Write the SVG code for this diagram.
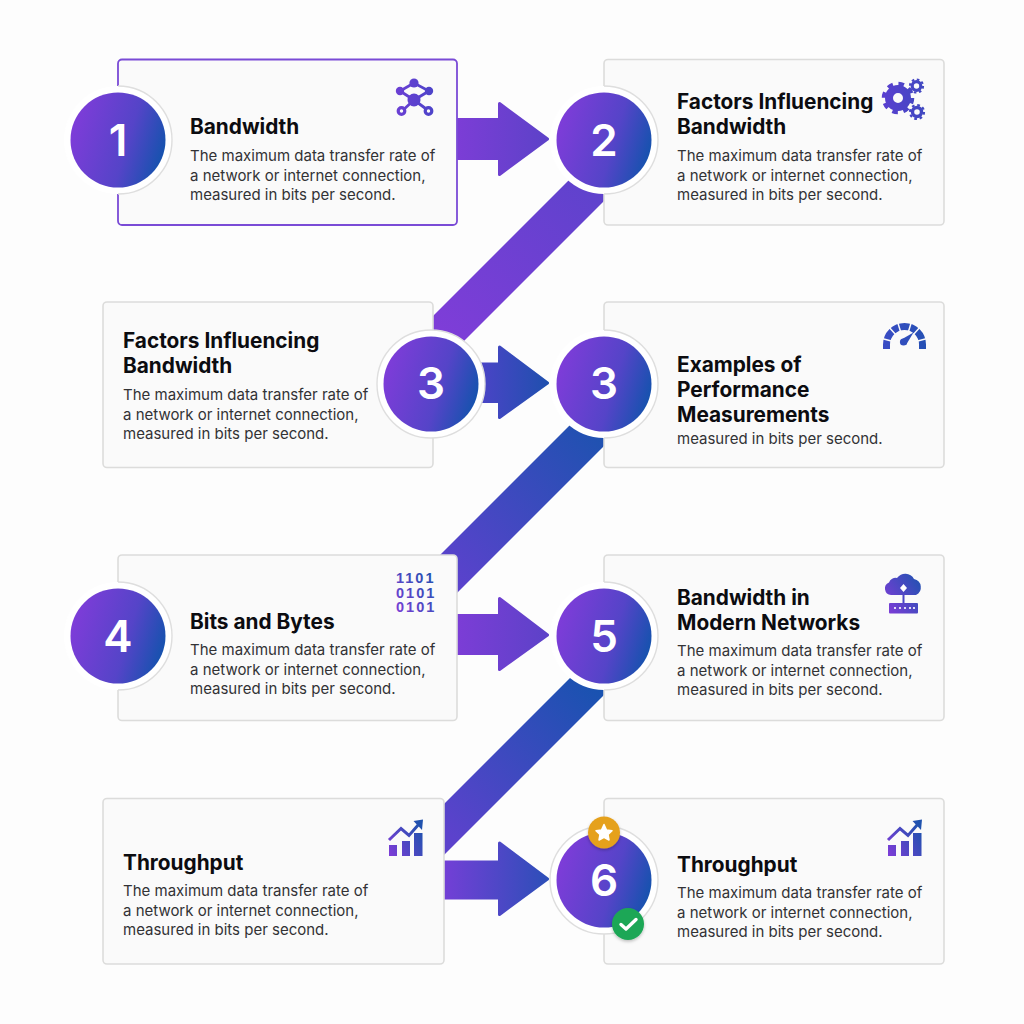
<svg xmlns="http://www.w3.org/2000/svg" xmlns:xlink="http://www.w3.org/1999/xlink" width="1024" height="1024" viewBox="0 0 1024 1024">
<style>
.card{fill:#fafafa;stroke:#dcdcdb;stroke-width:1.6}
.ring{fill:#fff;stroke:#dedede;stroke-width:1.4}
.halo{fill:#fff}
.edge{fill:none;stroke:#dedede;stroke-width:1.4}
.t{font-family:Inter,"Liberation Sans",sans-serif;font-weight:700;font-size:20.8px;fill:#0c0c10}
.b{font-family:Inter,"Liberation Sans",sans-serif;font-weight:400;font-size:15px;fill:#323235}
.n{font-family:Inter,"Liberation Sans",sans-serif;font-weight:600;font-size:44px;fill:#fff;text-anchor:middle}
.arrow{stroke-width:3;stroke-linejoin:round}
.bin{font-family:"Liberation Sans",sans-serif;font-weight:700;font-size:14.5px;letter-spacing:2px}
</style>
<defs>
<linearGradient id="disc" x1="0" y1="0.35" x2="1" y2="0.65"><stop offset="0" stop-color="#7f3cd9"/><stop offset="0.6" stop-color="#5544c8"/><stop offset="1" stop-color="#1353ad"/></linearGradient>
<linearGradient id="a1" gradientUnits="userSpaceOnUse" x1="457" y1="139" x2="549" y2="139"><stop offset="0" stop-color="#7c3dd6"/><stop offset="1" stop-color="#5c42c8"/></linearGradient>
<linearGradient id="a3" gradientUnits="userSpaceOnUse" x1="481" y1="383" x2="549" y2="383"><stop offset="0" stop-color="#4a44c6"/><stop offset="1" stop-color="#1f50ae"/></linearGradient>
<linearGradient id="a5" gradientUnits="userSpaceOnUse" x1="457" y1="635" x2="549" y2="635"><stop offset="0" stop-color="#7c3dd6"/><stop offset="1" stop-color="#5c42c8"/></linearGradient>
<linearGradient id="a6" gradientUnits="userSpaceOnUse" x1="444" y1="879" x2="549" y2="879"><stop offset="0" stop-color="#733fd6"/><stop offset="1" stop-color="#2c4fb8"/></linearGradient>
<linearGradient id="d1" gradientUnits="userSpaceOnUse" x1="434" y1="330" x2="610" y2="160"><stop offset="0" stop-color="#7f3dd8"/><stop offset="1" stop-color="#5a43cb"/></linearGradient>
<linearGradient id="d2" gradientUnits="userSpaceOnUse" x1="445" y1="570" x2="610" y2="420"><stop offset="0" stop-color="#5a42cc"/><stop offset="1" stop-color="#1a53ae"/></linearGradient>
<linearGradient id="d3" gradientUnits="userSpaceOnUse" x1="445" y1="830" x2="610" y2="670"><stop offset="0" stop-color="#5c42cc"/><stop offset="1" stop-color="#1254ad"/></linearGradient>
<linearGradient id="i1" gradientUnits="userSpaceOnUse" x1="395" y1="98" x2="436" y2="98"><stop offset="0" stop-color="#6c3fd4"/><stop offset="1" stop-color="#4a44c8"/></linearGradient>
<linearGradient id="i2" gradientUnits="userSpaceOnUse" x1="882" y1="98" x2="925" y2="98"><stop offset="0" stop-color="#5a3fd0"/><stop offset="1" stop-color="#3f48c0"/></linearGradient>
<linearGradient id="i3" gradientUnits="userSpaceOnUse" x1="883" y1="340" x2="926" y2="340"><stop offset="0" stop-color="#3a4cc4"/><stop offset="1" stop-color="#2550b4"/></linearGradient>
<linearGradient id="i4" gradientUnits="userSpaceOnUse" x1="396" y1="612" x2="436" y2="575"><stop offset="0" stop-color="#7a3dd6"/><stop offset="1" stop-color="#1f52ae"/></linearGradient>
<linearGradient id="i5" gradientUnits="userSpaceOnUse" x1="885" y1="605" x2="923" y2="580"><stop offset="0" stop-color="#7a3dd6"/><stop offset="1" stop-color="#1f52b0"/></linearGradient>
<linearGradient id="i6" gradientUnits="userSpaceOnUse" x1="388" y1="850" x2="423" y2="830"><stop offset="0" stop-color="#7a3dd6"/><stop offset="1" stop-color="#1f52ae"/></linearGradient>
<filter id="sh" x="-30%" y="-30%" width="160%" height="160%"><feDropShadow dx="0" dy="1.5" stdDeviation="1.5" flood-color="#000" flood-opacity="0.25"/></filter>
<g id="chart">
<rect x="389" y="845" width="8" height="11"/><rect x="402" y="841" width="8" height="15"/><rect x="414" y="833" width="8.500" height="23"/>
<path d="M389 840L401 828.500L409 835.500L419 824" fill="none" stroke-width="3" stroke="url(#i6)"/>
<path d="M413.500 821L423 819.500L422 830Z"/>
</g>
</defs>
<rect width="1024" height="1024" fill="#fdfdfd"/>

<g id="connectors">
<path fill="url(#d1)" d="M600 149L656 149L400 405L344 405Z"/>
<path fill="url(#d2)" d="M600 395L656 394L400 650L345 650Z"/>
<path fill="url(#d3)" d="M600 648L651 648L400 899L349 899Z"/>
<path class="arrow" fill="url(#a1)" stroke="url(#a1)" d="M457 119.500H499.500V103.500L547.500 139L499.500 174.500V158.500H457Z"/>
<path class="arrow" fill="url(#a3)" stroke="url(#a3)" d="M478 364H499.500V347L547.500 383L499.500 417.500V401.500H478Z"/>
<path class="arrow" fill="url(#a5)" stroke="url(#a5)" d="M457 615.500H499.500V598.500L547.500 635L499.500 669.500V653.500H457Z"/>
<path class="arrow" fill="url(#a6)" stroke="url(#a6)" d="M444 862H499.500V843L547.500 879L499.500 914.500V898H444Z"/>
</g>

<g id="node-1">
<rect x="118" y="59.500" width="339" height="165.500" rx="4" fill="#fafafa" stroke="#7a4bd6" stroke-width="1.800"/>
<text class="t" x="190" y="134">Bandwidth</text>
<text class="b" x="190" y="161">The maximum data transfer rate of</text>
<text class="b" x="190" y="181">a network or internet connection,</text>
<text class="b" x="190" y="200">measured in bits per second.</text>
<circle class="halo" cx="118" cy="140" r="54"/><path class="edge" d="M118 86A54 54 0 0 1 118 194"/><circle cx="118" cy="140" r="47.500" fill="url(#disc)"/>
<text class="n" x="118" y="156">1</text>
<g fill="url(#i1)" stroke="url(#i1)">
<path d="M414 83L400 91L414 100L429 91Z M414 100L402 111M414 100L429 111" fill="none" stroke-width="2.800"/>
<circle cx="414" cy="83" r="4.600" stroke="none"/><circle cx="400" cy="91" r="4.200" stroke="none"/><circle cx="429" cy="91" r="4.200" stroke="none"/><circle cx="414" cy="100" r="6.500" stroke="none"/>
<circle cx="401.500" cy="111" r="3.300" fill="#fafafa" stroke-width="3.200"/><circle cx="428.500" cy="111" r="3.300" fill="#fafafa" stroke-width="3.200"/>
</g>
</g>

<g id="node-2">
<rect class="card" x="604" y="59.500" width="340" height="165.500" rx="4"/>
<text class="t" x="677" y="109">Factors Influencing</text>
<text class="t" x="677" y="134">Bandwidth</text>
<text class="b" x="677" y="161">The maximum data transfer rate of</text>
<text class="b" x="677" y="181">a network or internet connection,</text>
<text class="b" x="677" y="200">measured in bits per second.</text>
<circle class="halo" cx="604" cy="140" r="54"/><path class="edge" d="M604 86A54 54 0 0 1 604 194"/><circle cx="604" cy="140" r="47.500" fill="url(#disc)"/>
<text class="n" x="604" y="156">2</text>
<g fill="none" stroke="url(#i2)">
<circle cx="898" cy="98" r="9" stroke-width="8"/><circle cx="898" cy="98" r="14" stroke-width="4.500" stroke-dasharray="5.500 5.500"/>
<circle cx="916.500" cy="86" r="4.300" stroke-width="3.200"/><circle cx="916.500" cy="86" r="6.600" stroke-width="2" stroke-dasharray="2.600 2.600"/>
<circle cx="917" cy="112" r="4.500" stroke-width="3.400"/><circle cx="917" cy="112" r="7" stroke-width="2.200" stroke-dasharray="2.750 2.750"/>
</g>
</g>

<g id="node-3a">
<rect class="card" x="103" y="302" width="330" height="165.500" rx="4"/>
<text class="t" x="123" y="348">Factors Influencing</text>
<text class="t" x="123" y="373">Bandwidth</text>
<text class="b" x="123" y="400">The maximum data transfer rate of</text>
<text class="b" x="123" y="420">a network or internet connection,</text>
<text class="b" x="123" y="439">measured in bits per second.</text>
<circle class="ring" cx="431" cy="384" r="54"/><circle cx="431" cy="384" r="47.500" fill="url(#disc)"/>
<text class="n" x="431" y="399">3</text>
</g>

<g id="node-3b">
<rect class="card" x="604" y="302" width="340" height="165.500" rx="4"/>
<text class="t" x="677" y="372">Examples of</text>
<text class="t" x="677" y="397">Performance</text>
<text class="t" x="677" y="422">Measurements</text>
<text class="b" x="677" y="444">measured in bits per second.</text>
<circle class="halo" cx="604" cy="384" r="54"/><path class="edge" d="M604 330A54 54 0 0 1 604 438"/><circle cx="604" cy="384" r="47.500" fill="url(#disc)"/>
<text class="n" x="604" y="399">3</text>
<g>
<path d="M886.500 349V344.500A18 18 0 0 1 922.500 344.500V349" fill="none" stroke="url(#i3)" stroke-width="7"/>
<path d="M904.500 344.500L880 338M904.500 344.500L888 326M904.500 344.500L897 320M904.500 344.500L912 320M904.500 344.500L921 326M904.500 344.500L929 338" fill="none" stroke="#fafafa" stroke-width="1.500"/>
<path d="M900.500 340L913.500 332.500L906 345Z" fill="url(#i3)"/><circle cx="903.500" cy="342" r="3.600" fill="url(#i3)"/>
</g>
</g>

<g id="node-4">
<rect class="card" x="118" y="555" width="339" height="165.500" rx="4"/>
<text class="t" x="190" y="629">Bits and Bytes</text>
<text class="b" x="190" y="655">The maximum data transfer rate of</text>
<text class="b" x="190" y="675">a network or internet connection,</text>
<text class="b" x="190" y="694">measured in bits per second.</text>
<circle class="halo" cx="118" cy="636" r="54"/><path class="edge" d="M118 582A54 54 0 0 1 118 690"/><circle cx="118" cy="636" r="47.500" fill="url(#disc)"/>
<text class="n" x="118" y="652">4</text>
<text class="bin" fill="url(#i4)"><tspan x="396" y="583">1101</tspan><tspan x="396" y="597.500">0101</tspan><tspan x="396" y="612">0101</tspan></text>
</g>

<g id="node-5">
<rect class="card" x="604" y="555" width="340" height="165.500" rx="4"/>
<text class="t" x="677" y="605">Bandwidth in</text>
<text class="t" x="677" y="630">Modern Networks</text>
<text class="b" x="677" y="656">The maximum data transfer rate of</text>
<text class="b" x="677" y="676">a network or internet connection,</text>
<text class="b" x="677" y="695">measured in bits per second.</text>
<circle class="halo" cx="604" cy="636" r="54"/><path class="edge" d="M604 582A54 54 0 0 1 604 690"/><circle cx="604" cy="636" r="47.500" fill="url(#disc)"/>
<text class="n" x="604" y="652">5</text>
<g>
<path fill="url(#i5)" d="M891 595A6.500 6.500 0 0 1 889 582.500A7 7 0 0 1 897 578A10 10 0 0 1 914 579A8.500 8.500 0 0 1 916 595Z"/>
<path d="M903.500 595V603" stroke="#4a46c6" stroke-width="2"/>
<rect x="889" y="603" width="29" height="10.500" rx="1" fill="url(#i5)"/>
<path d="M903.500 584L907 588L903.500 592L900 588Z" fill="#fff"/>
<g fill="#fff"><circle cx="895" cy="608" r="1.100"/><circle cx="900" cy="608" r="1.100"/><circle cx="905" cy="608" r="1.100"/><circle cx="910" cy="608" r="1.100"/><circle cx="914" cy="608" r="1.100"/></g>
</g>
</g>

<g id="node-6a">
<rect class="card" x="103" y="798.500" width="341" height="165.500" rx="4"/>
<text class="t" x="123" y="870">Throughput</text>
<text class="b" x="123" y="896">The maximum data transfer rate of</text>
<text class="b" x="123" y="916">a network or internet connection,</text>
<text class="b" x="123" y="935">measured in bits per second.</text>
<use xlink:href="#chart" href="#chart" fill="url(#i6)"/>
</g>

<g id="node-6b">
<rect class="card" x="604" y="798.500" width="340" height="165.500" rx="4"/>
<text class="t" x="677" y="872">Throughput</text>
<text class="b" x="677" y="898">The maximum data transfer rate of</text>
<text class="b" x="677" y="918">a network or internet connection,</text>
<text class="b" x="677" y="937">measured in bits per second.</text>
<circle class="ring" cx="604" cy="880" r="54"/><circle cx="604" cy="880" r="47.500" fill="url(#disc)"/>
<text class="n" x="604" y="896">6</text>
<use xlink:href="#chart" href="#chart" x="499" fill="url(#i6)"/>
<g id="badge-star"><circle cx="604" cy="832.500" r="16" fill="#e5a11f" filter="url(#sh)"/>
<path fill="#fff" stroke="#fff" stroke-width="1.500" stroke-linejoin="round" d="M604 824.500L606.500 830L612 830.700L608 834.500L609 840L604 837.300L599 840L600 834.500L596 830.700L601.500 830Z"/></g>
<g id="badge-check"><circle cx="628" cy="924" r="16" fill="#1fa757" filter="url(#sh)"/>
<path fill="none" stroke="#fff" stroke-width="3.400" stroke-linecap="round" stroke-linejoin="round" d="M621 924.500L626 929L636 919.500"/></g>
</g>
</svg>
